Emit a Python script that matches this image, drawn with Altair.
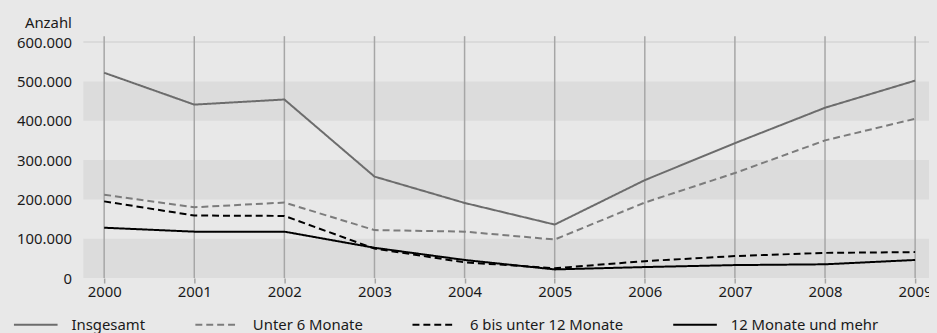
import altair as alt
import pandas as pd

years = [2000, 2001, 2002, 2003, 2004, 2005, 2006, 2007, 2008, 2009]
insgesamt = [522000, 441000, 454000, 258000, 191000, 136000, 249000, 343000, 433000, 502000]
unter6 = [212000, 180000, 192000, 122000, 118000, 98000, 192000, 267000, 350000, 405000]
m6_12 = [195000, 159000, 158000, 75000, 40000, 25000, 43000, 56000, 64000, 66000]
m12 = [128000, 118000, 118000, 77000, 46000, 22000, 28000, 33000, 35000, 46000]

series_names = ["Insgesamt", "Unter 6 Monate", "6 bis unter 12 Monate", "12 Monate und mehr"]
series_values = [insgesamt, unter6, m6_12, m12]
series_colors = ["#6c6c6c", "#7c7c7c", "#000000", "#000000"]
series_dash = [[1, 0], [7, 4], [7, 4], [1, 0]]

y_ticks = [0, 100000, 200000, 300000, 400000, 500000, 600000]
band_lo = [0, 200000, 400000]
band_hi = [100000, 300000, 500000]

rows = []
for name, vals in zip(series_names, series_values):
    for yr, v in zip(years, vals):
        rows.append({"Jahr": yr, "Wert": v, "Reihe": name})
df = pd.DataFrame(rows)
bands = pd.DataFrame({"lo": band_lo, "hi": band_hi})
grid_df = pd.DataFrame({"Jahr": years})
top_df = pd.DataFrame({"v": [600000]})

W, H = 853, 244
FONT = "Noto Sans"
xscale = alt.Scale(domain=[1999.769, 2009.154], nice=False, zero=False)
yscale = alt.Scale(domain=[0, 615000], nice=False)

band_layer = alt.Chart(bands).mark_rect(color="#dcdcdc").encode(
    x=alt.value(0), x2=alt.value(W),
    y=alt.Y("lo:Q", scale=yscale,
            axis=alt.Axis(values=y_ticks, grid=False, ticks=False, domain=False,
                          labelExpr="replace(format(datum.value, ','), ',', '.')",
                          labelPadding=12, labelFontSize=15, labelFont=FONT,
                          labelColor="#1a1a1a", title="Anzahl", titleAngle=0,
                          titleAlign="right", titleBaseline="middle", titleX=-12,
                          titleY=-14, titleFont=FONT, titleFontSize=15,
                          titleFontWeight="normal", titleColor="#1a1a1a")),
    y2="hi:Q",
)

top_rule = alt.Chart(top_df).mark_rule(color="#d6d6d6", strokeWidth=1.5).encode(
    y=alt.Y("v:Q", scale=yscale), x=alt.value(0), x2=alt.value(W)
)

grid_layer = alt.Chart(grid_df).mark_rule(color="#a6a6a6", strokeWidth=1.5).encode(
    x=alt.X("Jahr:Q", scale=xscale,
            axis=alt.Axis(values=years, format="d", grid=False, domain=False,
                          tickSize=5, tickColor="#a6a6a6", tickWidth=1.5,
                          labelPadding=2, labelFontSize=15, labelFont=FONT,
                          labelColor="#1a1a1a", labelFlush=False, title=None)),
    y=alt.value(0), y2=alt.value(H),
)

lines = alt.Chart(df).mark_line(strokeWidth=2).encode(
    x=alt.X("Jahr:Q", scale=xscale),
    y=alt.Y("Wert:Q", scale=yscale),
    color=alt.Color("Reihe:N", sort=series_names,
                    scale=alt.Scale(domain=series_names, range=series_colors),
                    legend=alt.Legend(title=None, orient="none", legendX=-71, legendY=268,
                                      padding=0, direction="horizontal", columns=4,
                                      symbolType="stroke", symbolSize=1936,
                                      symbolStrokeWidth=2, labelOffset=13,
                                      columnPadding=46, labelFont=FONT,
                                      labelFontSize=15, labelColor="#1a1a1a")),
    strokeDash=alt.StrokeDash("Reihe:N", sort=series_names,
                              scale=alt.Scale(domain=series_names, range=series_dash)),
    order="Jahr:Q",
)

chart = alt.layer(band_layer, top_rule, grid_layer, lines).properties(
    width=W, height=H, background="#e8e8e8",
    autosize=alt.AutoSizeParams(type="none"),
    padding={"left": 76, "top": 27, "right": 0, "bottom": 54},
).configure_view(stroke=None)

chart.save("out.html", embed_options={"renderer": "svg", "actions": False,
                                      "defaultStyle": "body{background:#e8e8e8}"})
